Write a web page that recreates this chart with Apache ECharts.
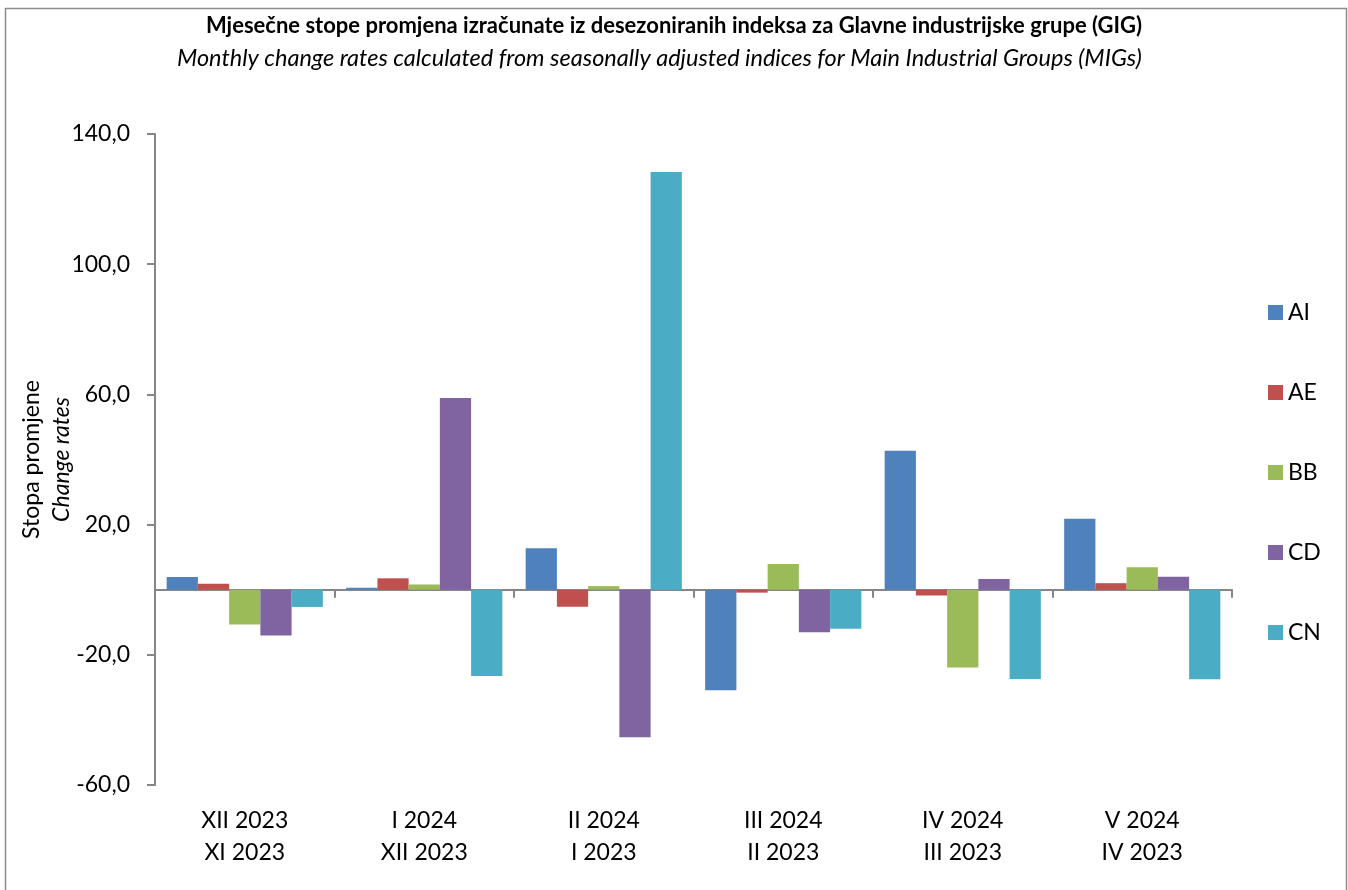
<!DOCTYPE html>
<html>
<head>
<meta charset="utf-8">
<script src="https://cdn.jsdelivr.net/npm/echarts@6/dist/echarts.min.js"></script>
<style>
  html, body { margin: 0; padding: 0; background: #fff; }
  #chart { width: 1348px; height: 890px; }
</style>
</head>
<body>
<div id="chart"></div>
<script>
// categories (current month / previous month)
const categories = [
  'XII 2023\nXI 2023',
  'I 2024\nXII 2023',
  'II 2024\nI 2023',
  'III 2024\nII 2023',
  'IV 2024\nIII 2023',
  'V 2024\nIV 2023'
]
const seriesNames = ['AI', 'AE', 'BB', 'CD', 'CN']
const valuesAI = [3.9, 0.6, 12.7, -30.9, 42.7, 21.8]
const valuesAE = [1.8, 3.5, -5.2, -0.9, -1.8, 2.0]
const valuesBB = [-10.7, 1.6, 1.1, 7.9, -23.9, 6.9]
const valuesCD = [-14.1, 58.9, -45.3, -13.1, 3.3, 4.0]
const valuesCN = [-5.3, -26.5, 128.3, -12.0, -27.4, -27.5]
const yMin = -60
const yMax = 140
const yStep = 40

const colors = ['#4F81BD', '#C0504D', '#9BBB59', '#8064A2', '#4BACC6']
const font = 'Lato, "Open Sans", sans-serif'
const axisGray = '#868686'

const myChart = echarts.init(document.getElementById('chart'))

const allValues = [valuesAI, valuesAE, valuesBB, valuesCD, valuesCN]
const series = seriesNames.map((name, i) => ({
  name: name,
  type: 'bar',
  xAxisIndex: 0,
  data: allValues[i],
  barGap: '0%',
  barCategoryGap: '13%',
  itemStyle: { color: colors[i] }
}))

const option = {
  animation: false,
  textStyle: { fontFamily: font },
  graphic: [{
    type: 'rect',
    shape: { x: 5.5, y: 8.5, width: 1341, height: 900 },
    style: { fill: 'none', stroke: '#8c8c8c', lineWidth: 1.5 },
    z: 100
  }],
  title: [
    {
      text: 'Mjesečne stope promjena izračunate iz desezoniranih indeksa za Glavne industrijske grupe (GIG)',
      left: 'center',
      top: 10,
      textStyle: { fontFamily: font, fontSize: 22, fontWeight: 'bold', color: '#000' }
    },
    {
      text: 'Monthly change rates calculated from seasonally adjusted indices for Main Industrial Groups (MIGs)',
      left: 172,
      top: 42,
      textStyle: { fontFamily: font, fontSize: 23.5, fontStyle: 'italic', fontWeight: 'normal', color: '#000' }
    }
  ],
  legend: {
    orient: 'vertical',
    left: 1263,
    top: 296,
    itemWidth: 15,
    itemHeight: 15,
    itemGap: 57,
    icon: 'rect',
    textStyle: { fontFamily: font, fontSize: 23, color: '#000' },
    data: seriesNames
  },
  grid: {
    left: 155,
    right: 116,
    top: 134,
    bottom: 105,
    containLabel: false,
    outerBoundsMode: 'none'
  },
  xAxis: [
    {
      type: 'category',
      data: categories,
      position: 'bottom',
      axisLine: { show: false, onZero: false },
      axisTick: { show: false },
      axisLabel: {
        margin: 20,
        fontFamily: font,
        fontSize: 23,
        lineHeight: 32,
        color: '#000'
      }
    },
    {
      type: 'category',
      data: categories,
      position: 'bottom',
      axisLine: { show: true, onZero: true, lineStyle: { color: axisGray, width: 2 } },
      axisTick: { show: true, length: 8, lineStyle: { color: axisGray, width: 2 } },
      axisLabel: { show: false }
    }
  ],
  yAxis: {
    type: 'value',
    min: yMin,
    max: yMax,
    interval: yStep,
    name: '{a|Stopa promjene}\n{b|Change rates}',
    nameLocation: 'middle',
    nameRotate: 90,
    nameGap: 78,
    nameMoveOverlap: false,
    nameTextStyle: {
      rich: {
        a: { fontFamily: font, fontSize: 23, color: '#000', lineHeight: 30 },
        b: { fontFamily: font, fontSize: 23, fontStyle: 'italic', color: '#000', lineHeight: 30 }
      }
    },
    axisLine: { show: true, onZero: false, lineStyle: { color: axisGray, width: 2 } },
    axisTick: { show: true, length: 8, lineStyle: { color: axisGray, width: 2 } },
    splitLine: { show: false },
    axisLabel: {
      margin: 25,
      fontFamily: font,
      fontSize: 23,
      color: '#000',
      formatter: v => v.toFixed(1).replace('.', ',')
    }
  },
  series: series
}

myChart.setOption(option)
</script>
</body>
</html>
